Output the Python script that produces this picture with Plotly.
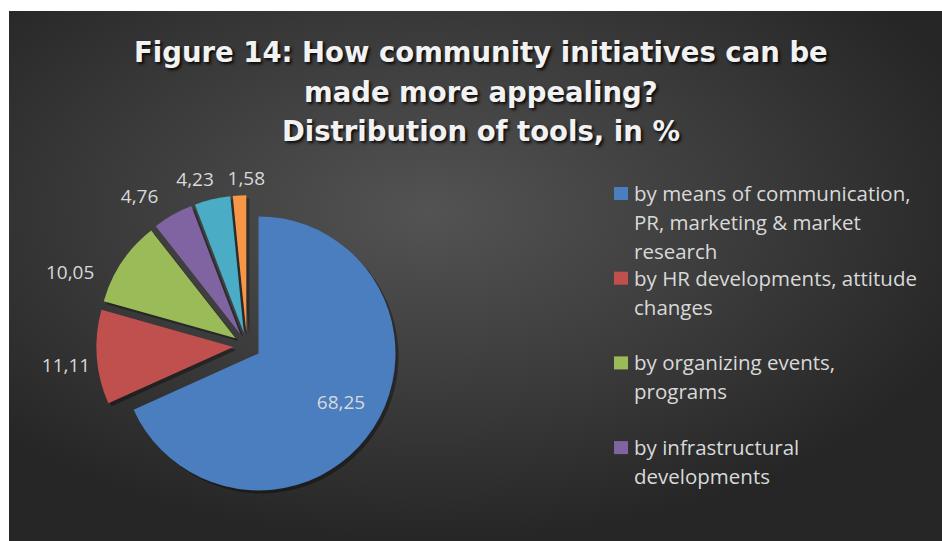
import base64
import plotly.graph_objects as go

# Survey shares (%) of the tools named by respondents
categories = [
    "by means of communication, PR, marketing & market research",
    "by HR developments, attitude changes",
    "by organizing events, programs",
    "by infrastructural developments",
    "other tools",
    "no answer",
]
shares = [68.25, 11.11, 10.05, 4.76, 4.23, 1.58]
share_labels = ["68,25", "11,11", "10,05", "4,76", "4,23", "1,58"]
slice_colors = ["#4a7ebf", "#c0504d", "#9bbb59", "#8064a2", "#4bacc6", "#f79646"]

# Legend shows the first four categories, wrapped over several lines
legend_lines = [
    ["by means of communication,", "PR, marketing & market", "research"],
    ["by HR developments, attitude", "changes"],
    ["by organizing events,", "programs"],
    ["by infrastructural", "developments"],
]

title_lines = [
    "Figure 14: How community initiatives can be",
    "made more appealing?",
    "Distribution of tools, in %",
]

W, H = 942, 541
FONT = "Open Sans"
TITLE_FONT = "DejaVu Sans"
TEXT_GREY = "#d9d9d9"

# small pixel nudges (dx, dy) of each value label away from plotly's default spot
label_nudge = [(25, 11), (0, 8), (-21, 14), (-8, -9), (8, -8), (32, -5)]


def px_x(v):
    return v / W


def px_y(v):
    return 1 - v / H


# Dark radial-gradient panel behind the chart
svg = (
    '<svg xmlns="http://www.w3.org/2000/svg" width="933" height="530" '
    'preserveAspectRatio="none" viewBox="0 0 933 530">'
    '<defs><radialGradient id="g" cx="0.45" cy="0.38" r="0.62">'
    '<stop offset="0" stop-color="#535353"/>'
    '<stop offset="0.55" stop-color="#3b3b3b"/>'
    '<stop offset="1" stop-color="#262626"/>'
    '</radialGradient></defs>'
    '<rect width="933" height="530" fill="url(#g)"/></svg>'
)
bg_src = "data:image/svg+xml;base64," + base64.b64encode(svg.encode()).decode()

pull = [0.1] * len(shares)
pie_cx, pie_cy, half = 247, 346, 150.7


def pie_domain(dx=0.0, dy=0.0):
    return dict(
        x=[px_x(pie_cx - half + dx), px_x(pie_cx + half + dx)],
        y=[px_y(pie_cy + half + dy), px_y(pie_cy - half + dy)],
    )


common = dict(
    values=shares,
    labels=categories,
    sort=False,
    direction="clockwise",
    rotation=0,
    pull=pull,
    showlegend=False,
)

fig = go.Figure()

# soft drop shadow under the slices
fig.add_trace(go.Pie(
    **common,
    marker=dict(colors=["rgba(0,0,0,0.35)"] * len(shares), line=dict(width=0)),
    textinfo="none",
    hoverinfo="skip",
    domain=pie_domain(3, 3),
))

# the coloured slices
fig.add_trace(go.Pie(
    **common,
    marker=dict(colors=slice_colors, line=dict(width=0)),
    textinfo="none",
    domain=pie_domain(),
))

# value labels, one transparent layer per slice so neighbouring labels
# of the thin slices can sit side by side
for k in range(len(shares)):
    dx, dy = label_nudge[k]
    fig.add_trace(go.Pie(
        **common,
        text=[share_labels[i] if i == k else "" for i in range(len(shares))],
        textinfo="text",
        marker=dict(colors=["rgba(0,0,0,0)"] * len(shares), line=dict(width=0)),
        textposition="inside" if k == 0 else "outside",
        insidetextorientation="horizontal",
        textfont=dict(family=FONT, size=19, color=TEXT_GREY),
        hoverinfo="skip",
        domain=pie_domain(dx, dy),
    ))

annotations = []
title_y = [52, 92, 131]
for line, yy in zip(title_lines, title_y):
    annotations.append(dict(
        text=line, x=px_x(481), y=px_y(yy), xref="paper", yref="paper",
        xanchor="center", yanchor="middle", showarrow=False,
        font=dict(family=TITLE_FONT, size=27.5, color="#f2f2f2", weight="bold",
                  shadow="2px 2px 3px rgba(0,0,0,0.85)"),
    ))

shapes = []
entry_top, entry_slot, line_gap = 193, 84.7, 29
for i, lines in enumerate(legend_lines):
    y0 = entry_top + i * entry_slot
    shapes.append(dict(
        type="rect", xref="paper", yref="paper",
        x0=px_x(614), x1=px_x(628), y0=px_y(y0 + 7), y1=px_y(y0 - 6),
        fillcolor=slice_colors[i], line=dict(width=0),
    ))
    for j, line in enumerate(lines):
        annotations.append(dict(
            text=line, x=px_x(632), y=px_y(y0 + j * line_gap),
            xref="paper", yref="paper", xanchor="left", yanchor="middle",
            showarrow=False, font=dict(family=FONT, size=20.5, color=TEXT_GREY),
        ))

fig.update_layout(
    width=W, height=H,
    margin=dict(l=0, r=0, t=0, b=0),
    paper_bgcolor="white",
    plot_bgcolor="rgba(0,0,0,0)",
    images=[dict(source=bg_src, xref="paper", yref="paper",
                 x=px_x(9), y=px_y(11), sizex=px_x(933), sizey=530 / H,
                 xanchor="left", yanchor="top", sizing="stretch", layer="below")],
    annotations=annotations,
    shapes=shapes,
    showlegend=False,
)

fig.write_html("out.html")
